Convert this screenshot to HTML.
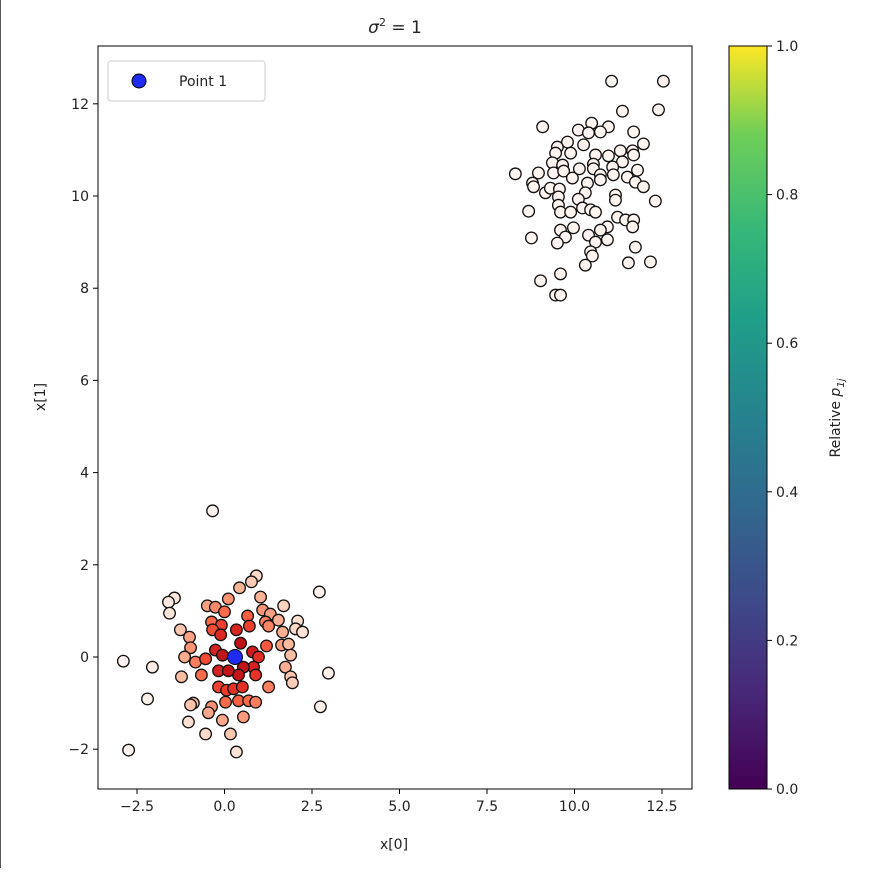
<!DOCTYPE html>
<html><head><meta charset="utf-8"><style>
body{margin:0;background:#fff;font-family:"Liberation Sans","DejaVu Sans",sans-serif}
svg text{font-family:"DejaVu Sans","Liberation Sans",sans-serif;font-size:14px;fill:#222}
</style></head><body>
<svg id="c" width="870" height="868" xmlns="http://www.w3.org/2000/svg">
<defs><linearGradient id="vir" x1="0" y1="1" x2="0" y2="0">
<stop offset="0" stop-color="#440154"/><stop offset="0.13" stop-color="#482878"/><stop offset="0.25" stop-color="#3e4989"/><stop offset="0.38" stop-color="#31688e"/><stop offset="0.5" stop-color="#26828e"/><stop offset="0.63" stop-color="#1f9e89"/><stop offset="0.75" stop-color="#35b779"/><stop offset="0.88" stop-color="#6ece58"/><stop offset="1" stop-color="#fde725"/></linearGradient></defs>
<line x1="0.5" y1="0" x2="0.5" y2="868" stroke="#555"/>
<text x="395" y="33" text-anchor="middle" style="font-size:17px"><tspan font-style="italic">σ</tspan><tspan dy="-7" style="font-size:11px">2</tspan><tspan dy="7"> = 1</tspan></text>
<rect x="98" y="46" width="594" height="743" fill="none" stroke="#000" stroke-width="1"/>
<g id="xt"></g><g id="yt"></g><g id="pts"></g>
<text x="394" y="849" text-anchor="middle">x[0]</text>
<text transform="translate(45,397) rotate(-90)" text-anchor="middle">x[1]</text>
<g>
<rect x="108" y="61" width="157" height="40" rx="3" fill="#fff" stroke="#ccc"/>
<circle cx="139" cy="81" r="7" fill="#1f2cf0" stroke="#000"/>
<text x="179" y="86">Point 1</text></g>
<rect x="729" y="46" width="38" height="743" fill="url(#vir)" stroke="#000"/>
<g id="ct"></g>
<text transform="translate(840,418) rotate(-90)" text-anchor="middle">Relative <tspan font-style="italic">p</tspan><tspan dy="4" style="font-size:10px" font-style="italic">1j</tspan></text>
</svg>
<script>
const xTicks=[-2.5,0,2.5,5,7.5,10,12.5];
const yTicks=[-2,0,2,4,6,8,10,12];
const cTicks=[0,0.2,0.4,0.6,0.8,1.0];
const point1=[0.3,0.0];
const xs=[-0.34,0.91,0.77,0.43,2.71,-1.43,-1.6,-1.57,0.11,1.03,-0.49,-0.26,0.0,0.66,1.69,1.09,1.31,1.54,2.09,2.03,2.23,1.17,1.26,1.66,0.71,0.34,-0.37,-0.09,-0.34,-0.11,-1.26,-1.0,0.46,1.2,1.63,1.83,0.8,-0.97,-1.14,-0.83,-0.54,-0.26,-0.06,0.97,1.89,1.74,0.83,0.54,0.4,-0.17,0.11,0.89,-0.66,-1.23,-2.89,-2.06,2.97,1.89,1.94,1.26,-0.17,0.06,0.26,0.51,0.03,0.4,0.69,0.89,-0.89,-0.97,-0.37,-2.2,2.74,-0.46,0.54,-0.06,-1.03,-0.54,0.17,-2.74,0.34,
11.06,12.54,11.37,12.4,9.09,10.49,10.97,10.11,10.4,10.74,11.69,11.97,9.8,10.26,9.51,9.89,9.46,10.6,10.97,11.31,11.66,11.69,11.37,9.37,9.66,10.54,11.09,10.14,8.31,8.97,9.4,9.69,10.54,10.74,11.8,11.51,9.94,8.8,8.83,9.17,9.31,9.57,10.37,10.74,11.11,11.74,11.97,9.54,10.31,10.11,11.17,11.17,12.31,8.69,9.54,9.6,9.89,10.23,10.46,10.6,11.23,11.46,11.69,11.66,10.94,9.97,9.6,10.74,9.74,10.4,8.77,9.51,10.94,10.6,10.46,10.51,11.74,10.31,11.54,12.17,9.03,9.6,9.46,9.6];
const ys=[3.17,1.76,1.63,1.5,1.41,1.28,1.19,0.95,1.26,1.3,1.11,1.08,0.98,0.89,1.11,1.02,0.93,0.8,0.78,0.61,0.54,0.76,0.67,0.54,0.67,0.59,0.76,0.69,0.59,0.48,0.59,0.43,0.3,0.24,0.26,0.28,0.11,0.2,0.0,-0.11,-0.04,0.15,0.04,0.0,0.04,-0.22,-0.22,-0.22,-0.39,-0.3,-0.3,-0.39,-0.39,-0.43,-0.09,-0.22,-0.35,-0.43,-0.56,-0.65,-0.65,-0.72,-0.69,-0.65,-0.98,-0.95,-0.95,-0.98,-1.0,-1.04,-1.08,-0.91,-1.08,-1.21,-1.3,-1.37,-1.41,-1.67,-1.67,-2.02,-2.06,
12.49,12.49,11.84,11.87,11.5,11.58,11.5,11.43,11.37,11.39,11.39,11.13,11.17,11.11,11.06,10.93,10.93,10.89,10.87,10.98,10.98,10.89,10.74,10.72,10.67,10.69,10.63,10.59,10.48,10.5,10.5,10.54,10.59,10.46,10.56,10.41,10.39,10.28,10.2,10.07,10.17,10.15,10.28,10.35,10.46,10.3,10.2,9.98,10.07,9.93,10.02,9.91,9.89,9.67,9.8,9.65,9.65,9.74,9.7,9.65,9.54,9.48,9.48,9.33,9.33,9.31,9.26,9.26,9.11,9.15,9.09,8.98,9.05,9.0,8.79,8.7,8.89,8.5,8.55,8.57,8.16,8.31,7.85,7.85];
const NS="http://www.w3.org/2000/svg";
const sx=v=>224.5+v*35, sy=v=>657-v*46.1, sc=v=>789-v*743;
function mk(t,a,p){const e=document.createElementNS(NS,t);for(const k in a)e.setAttribute(k,a[k]);document.getElementById(p).appendChild(e);return e;}
xTicks.forEach(t=>{
 const l=mk('line',{x1:sx(t),x2:sx(t),y1:789,y2:794,stroke:'#000'},'xt');
 
 
 const s=mk('text',{x:sx(t),y:811,'text-anchor':'middle'},'xt');s.textContent=(t<0?'−':'')+Math.abs(t).toFixed(1);
 
 });
yTicks.forEach(t=>{
 const l=mk('line',{x1:93,x2:98,y1:sy(t),y2:sy(t),stroke:'#000'},'yt');
 
 
 const s=mk('text',{x:89,y:sy(t)+5,'text-anchor':'end'},'yt');s.textContent=(t<0?'−':'')+Math.abs(t);
 
 });
cTicks.forEach(t=>{
 const l=mk('line',{x1:767,x2:772,y1:sc(t),y2:sc(t),stroke:'#000'},'ct');
 
 
 const s=mk('text',{x:776,y:sc(t)+5},'ct');s.textContent=t.toFixed(1);
 
 });
const reds=[[255,245,240],[254,224,210],[252,187,161],[252,146,114],[251,106,74],[239,59,44],[203,24,29],[165,15,21],[103,0,13]];
function rc(v){v=Math.max(0,Math.min(1,v))*(reds.length-1);const i=Math.min(Math.floor(v),reds.length-2),f=v-i;
 return 'rgb('+reds[i].map((c,k)=>Math.round(c+(reds[i+1][k]-c)*f)).join(',')+')';}
xs.forEach((x,i)=>{
 const d2=(x-point1[0])**2+(ys[i]-point1[1])**2;
 const p=Math.exp(-d2/2)*0.84;
 const c=mk('circle',{cx:sx(x),cy:sy(ys[i]),r:5.8,fill:rc(p),stroke:'#111','stroke-width':1.3},'pts');
 
 });
const b=mk('circle',{cx:sx(point1[0]),cy:sy(point1[1]),r:7.5,fill:'#1f2cf0',stroke:'#000'},'pts');


</script>
</body></html>
